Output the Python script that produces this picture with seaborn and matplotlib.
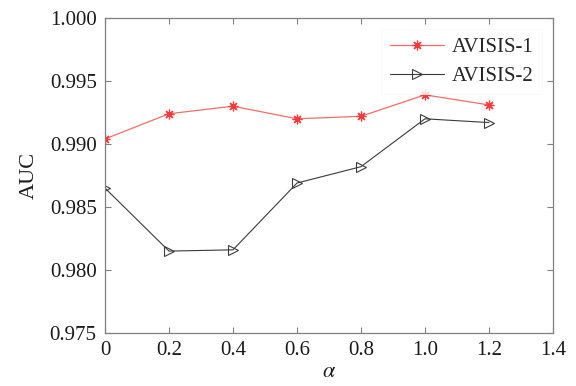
import matplotlib
matplotlib.use("Agg")
import matplotlib.pyplot as plt
import seaborn as sns
import pandas as pd

alpha = [0, 0.2, 0.4, 0.6, 0.8, 1.0, 1.2]
avisis1 = [0.9904, 0.9924, 0.9930, 0.9920, 0.9922, 0.9939, 0.9931]
avisis2 = [0.9865, 0.9815, 0.9816, 0.9869, 0.9882, 0.9920, 0.9917]
xticks = [0, 0.2, 0.4, 0.6, 0.8, 1.0, 1.2, 1.4]
xticklabels = ["0", "0.2", "0.4", "0.6", "0.8", "1.0", "1.2", "1.4"]
yticks = [0.975, 0.980, 0.985, 0.990, 0.995, 1.000]

sns.set_style("white")
plt.rcParams['font.family'] = ['Liberation Serif', 'DejaVu Serif']
plt.rcParams['mathtext.fontset'] = 'stix'

df1 = pd.DataFrame({"alpha": alpha, "AUC": avisis1})
df2 = pd.DataFrame({"alpha": alpha, "AUC": avisis2})

fig = plt.figure(figsize=(5.76, 3.86), dpi=100)
ax = fig.add_axes([0.1823, 0.1373, 0.960 - 0.1823, 0.9534 - 0.1373])

sns.lineplot(data=df1, x="alpha", y="AUC", ax=ax, color="#f26e6a", lw=0.9,
             marker=(8, 2, 0), markersize=7, markeredgecolor="#f03c3c",
             markeredgewidth=0.9, label="AVISIS-1")
sns.lineplot(data=df2, x="alpha", y="AUC", ax=ax, color="#3a3a3a", lw=0.8,
             marker=">", markersize=7.5, markerfacecolor="none",
             markeredgecolor="#3a3a3a", markeredgewidth=0.8, label="AVISIS-2")

ax.set_xlim(0, 1.4)
ax.set_ylim(0.975, 1.000)
ax.set_xticks(xticks)
ax.set_xticklabels(xticklabels)
ax.set_yticks(yticks)
ax.set_yticklabels([f"{v:.3f}" for v in yticks])
ax.tick_params(direction="in", length=4, width=0.8, color="#808080",
               labelsize=15, top=True, right=True, bottom=True, left=True,
               labelcolor="#1a1a1a", pad=6)
for s in ax.spines.values():
    s.set_color("#808080")
    s.set_linewidth(0.9)
ax.set_xlabel(r"$\alpha$", fontsize=16, labelpad=2, color="#1a1a1a")
ax.set_ylabel("AUC", fontsize=16, labelpad=8, color="#1a1a1a")

leg = ax.legend(loc="upper right", fontsize=15, frameon=True, fancybox=False,
                edgecolor="#f8f8f8", handlelength=2.6, handletextpad=0.4,
                borderaxespad=0.3, labelspacing=0.45,
                bbox_to_anchor=(0.99, 0.985))
leg.get_frame().set_linewidth(0.6)

fig.savefig("out.png", dpi=100)
